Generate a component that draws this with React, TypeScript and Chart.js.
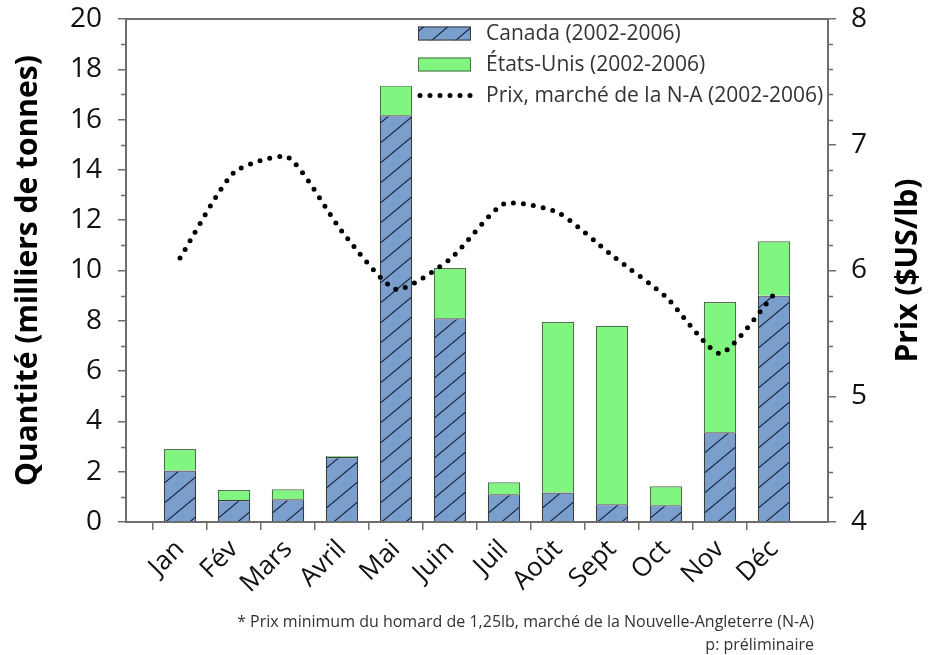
import React, { useEffect, useRef } from 'react';
import { Chart, registerables } from 'chart.js';

Chart.register(...registerables);

const months = ['Jan', 'Fév', 'Mars', 'Avril', 'Mai', 'Juin', 'Juil', 'Août', 'Sept', 'Oct', 'Nov', 'Déc'];
const canada = [2.05, 0.87, 0.9, 2.58, 16.17, 8.1, 1.1, 1.17, 0.71, 0.67, 3.57, 9.0];
const etatsUnis = [0.85, 0.4, 0.4, 0.04, 1.18, 2.0, 0.48, 6.78, 7.09, 0.75, 5.18, 2.16];
const prix = [6.1, 6.78, 6.9, 6.31, 5.85, 6.09, 6.53, 6.46, 6.12, 5.79, 5.34, 5.81];

const labelCanada = 'Canada (2002-2006)';
const labelUS = 'États-Unis (2002-2006)';
const labelPrix = 'Prix, marché de la N-A (2002-2006)';
const footnote1 = '* Prix minimum du homard de 1,25lb, marché de la Nouvelle-Angleterre (N-A)';
const footnote2 = 'p: préliminaire';
const titleLeft = 'Quantité (milliers de tonnes)';
const titleRight = 'Prix ($US/lb)';

const FONT = "'Open Sans', sans-serif";
const AXIS = '#6e6e6e';
const BLUE = '#7b9fcc';
const GREEN = '#80f57f';

function makePattern(ctx: CanvasRenderingContext2D) {
  const pc = document.createElement('canvas');
  pc.width = 24;
  pc.height = 20;
  const g = pc.getContext('2d')!;
  g.fillStyle = BLUE;
  g.fillRect(0, 0, 24, 20);
  g.strokeStyle = '#1d2c47';
  g.lineWidth = 1.3;
  g.beginPath();
  g.moveTo(-2, 20 + 5 / 3);
  g.lineTo(26, -5 / 3);
  g.moveTo(-26, 20 + 5 / 3);
  g.lineTo(2, -5 / 3);
  g.moveTo(22, 20 + 5 / 3);
  g.lineTo(50, -5 / 3);
  g.stroke();
  return ctx.createPattern(pc, 'repeat')!;
}

const pad = (arr: number[]) => [null, ...arr, null];

export default function App() {
  const ref = useRef<HTMLCanvasElement>(null);

  useEffect(() => {
    const canvas = ref.current!;
    const ctx = canvas.getContext('2d')!;
    const pattern = makePattern(ctx);

    const extras = {
      id: 'extras',
      afterDraw(chart: any) {
        const c = chart.ctx;
        const a = chart.chartArea;
        const yL = chart.scales.y;
        const yR = chart.scales.y1;
        c.save();
        // top border
        c.strokeStyle = AXIS;
        c.lineWidth = 2;
        c.beginPath();
        c.moveTo(a.left - 1, a.top);
        c.lineTo(a.right + 1, a.top);
        c.stroke();
        // minor ticks
        c.lineWidth = 1.5;
        c.beginPath();
        for (let v = 1; v < 20; v += 2) {
          const p = Math.round(yL.getPixelForValue(v)) + 0.5;
          c.moveTo(a.left - 5, p);
          c.lineTo(a.left, p);
        }
        for (let i = 1; i < 20; i++) {
          if (i % 5 === 0) continue;
          const v = 4 + i * 0.2;
          const p = Math.round(yR.getPixelForValue(v)) + 0.5;
          c.moveTo(a.right, p);
          c.lineTo(a.right + 5, p);
        }
        c.stroke();

        // right axis title (reads bottom to top)
        c.save();
        c.translate(908, (a.top + a.bottom) / 2);
        c.rotate(-Math.PI / 2);
        c.font = `bold 30px ${FONT}`;
        c.fillStyle = '#000';
        c.textAlign = 'center';
        c.textBaseline = 'middle';
        c.fillText(titleRight, 0, 0);
        c.restore();

        // legend
        const ds = chart.data.datasets;
        const lx = 418, lw = 53, tx = 486;
        const rows = [33.5, 64.5, 95.5];
        const items = [ds[1], ds[2], ds[0]];
        c.font = `21px ${FONT}`;
        c.textBaseline = 'middle';
        c.textAlign = 'left';
        items.forEach((d: any, i: number) => {
          const y = rows[i];
          if (d.type === 'line') {
            c.strokeStyle = d.borderColor;
            c.lineWidth = d.borderWidth;
            c.lineCap = 'round';
            c.setLineDash(d.borderDash);
            c.beginPath();
            c.moveTo(lx + 2, y);
            c.lineTo(lx + lw, y);
            c.stroke();
            c.setLineDash([]);
          } else {
            c.fillStyle = d.backgroundColor;
            c.fillRect(lx, y - 7, lw, 14);
            c.strokeStyle = d.borderColor;
            c.lineWidth = 1;
            c.strokeRect(lx + 0.5, y - 6.5, lw - 1, 13);
          }
          c.fillStyle = '#333';
          c.fillText(d.label, tx, y + 1);
        });

        // footnotes
        c.font = `16px ${FONT}`;
        c.fillStyle = '#333';
        c.textAlign = 'right';
        c.fillText(footnote1, 814, 622);
        c.fillText(footnote2, 814, 645);
        c.restore();
      },
    };

    const fitY = (w: number) => (s: any) => {
      s.width = w;
      s.paddingTop = 0;
      s.paddingBottom = 0;
    };

    const chart = new Chart(ctx, {
      data: {
        labels: ['', ...months, ''],
        datasets: [
          {
            type: 'line',
            label: labelPrix,
            data: pad(prix),
            yAxisID: 'y1',
            borderColor: '#000',
            borderWidth: 5,
            borderDash: [0, 10],
            borderCapStyle: 'round',
            pointRadius: 0,
            tension: 0.2,
            fill: false,
            order: 0,
          },
          {
            type: 'bar',
            label: labelCanada,
            data: pad(canada),
            yAxisID: 'y',
            backgroundColor: pattern,
            borderColor: '#3c3c3c',
            borderWidth: 1.2,
            stack: 's',
            categoryPercentage: 0.6,
            barPercentage: 1,
            order: 1,
          },
          {
            type: 'bar',
            label: labelUS,
            data: pad(etatsUnis),
            yAxisID: 'y',
            backgroundColor: GREEN,
            borderColor: '#4f6f4f',
            borderWidth: 1.2,
            stack: 's',
            categoryPercentage: 0.6,
            barPercentage: 1,
            order: 1,
          },
        ] as any,
      },
      plugins: [extras],
      options: {
        animation: false,
        responsive: true,
        maintainAspectRatio: false,
        layout: { padding: { top: 19, left: 0, right: 0, bottom: 0 } },
        plugins: { legend: { display: false }, tooltip: { enabled: false } },
        scales: {
          x: {
            type: 'category',
            offset: false,
            stacked: true,
            afterFit: (s: any) => { s.height = 133; s.paddingLeft = 0; s.paddingRight = 0; },
            border: { color: AXIS, width: 2 },
            grid: {
              drawOnChartArea: false,
              tickLength: 8,
              lineWidth: 1.5,
              tickColor: (c: any) => (c.index === 0 || c.index === 13 ? 'rgba(0,0,0,0)' : AXIS),
            },
            ticks: {
              autoSkip: false,
              minRotation: 45,
              maxRotation: 45,
              padding: 4,
              color: '#111',
              font: { family: FONT, size: 26 },
            },
          },
          y: {
            type: 'linear',
            position: 'left',
            stacked: true,
            min: 0,
            max: 20,
            afterFit: fitY(126),
            border: { color: AXIS, width: 2 },
            grid: { drawOnChartArea: false, tickLength: 8, lineWidth: 1.5, tickColor: AXIS },
            ticks: {
              stepSize: 2,
              padding: 16,
              color: '#111',
              font: { family: FONT, size: 28 },
            },
            title: {
              display: true,
              text: titleLeft,
              color: '#000',
              padding: { top: 10, bottom: 0 },
              font: { family: FONT, size: 30, weight: 'bold' },
            },
          },
          y1: {
            type: 'linear',
            position: 'right',
            min: 4,
            max: 8,
            afterFit: fitY(102),
            border: { color: AXIS, width: 2 },
            grid: { drawOnChartArea: false, tickLength: 8, lineWidth: 1.5, tickColor: AXIS },
            ticks: {
              stepSize: 1,
              padding: 15,
              color: '#111',
              font: { family: FONT, size: 28 },
            },
          },
        },
      } as any,
    });
    return () => chart.destroy();
  }, []);

  return (
    <div style={{ position: 'fixed', left: 0, top: 0, width: 930, height: 655, background: '#fff' }}>
      <canvas ref={ref} />
    </div>
  );
}
